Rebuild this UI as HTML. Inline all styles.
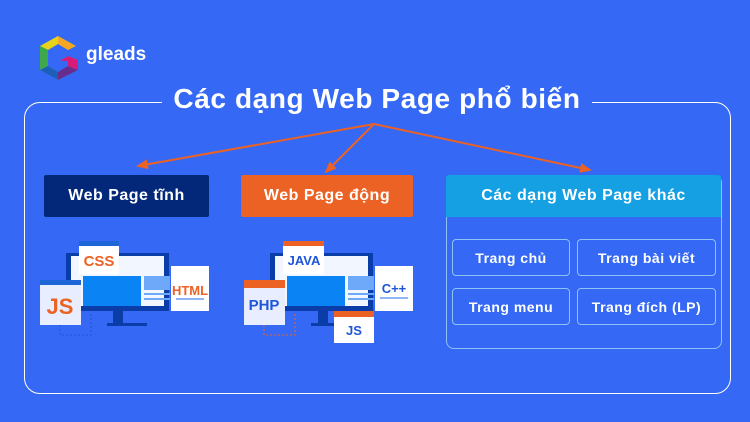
<!DOCTYPE html>
<html><head><meta charset="utf-8"><style>
body{margin:0;width:750px;height:422px;background:#3468f5;position:relative;overflow:hidden;font-family:"Liberation Sans","DejaVu Sans",sans-serif;}
.a{position:absolute;}
.btn{position:absolute;color:#fff;font-weight:bold;font-size:16px;display:flex;align-items:center;justify-content:center;letter-spacing:0.5px;border-radius:2px;}
.sub{position:absolute;border:1px solid #8fc3f5;border-radius:4px;color:#fff;font-weight:bold;font-size:14px;display:flex;align-items:center;justify-content:center;letter-spacing:0.5px;}
</style></head><body>
<div class="a" style="left:24px;top:102px;width:705px;height:290px;border:1.5px solid #fff;border-radius:16px;"></div>
<div class="a" style="left:162px;top:86px;width:430px;height:30px;background:#3468f5;"></div>
<div class="a" style="left:160px;top:83px;width:434px;text-align:center;color:#fff;font-weight:bold;font-size:28px;letter-spacing:0.6px;">Các dạng Web Page phổ biến</div>
<!-- logo -->
<svg class="a" style="left:38px;top:34px" width="45" height="48" viewBox="0 0 45 48">
<polygon points="20,2 38,12 30,16 20,10 10,16 10,32 20,38 30,32 30,27 22,27 30,22 40,26 40,36 20,46 2,36 2,12" fill="#2bb4a0"/>
<polygon points="20,2 38,12 30,16 20,10" fill="#f5a623"/>
<polygon points="20,2 20,10 10,16 2,12" fill="#e8d21a"/>
<polygon points="2,12 10,16 10,32 2,36" fill="#3fa84a"/>
<polygon points="30,22 40,26 40,36 30,32 30,27 22,27" fill="#d81b7a"/>
<polygon points="20,38 30,32 40,36 20,46" fill="#6a2b8f"/>
<polygon points="2,36 10,32 20,38 20,46" fill="#1c5fb8"/>
</svg>
<div class="a" style="left:86px;top:44px;color:#fff;font-weight:bold;font-size:19px;">gleads</div>
<!-- arrows -->
<svg class="a" style="left:0;top:0" width="750" height="422">
<defs><marker id="m" markerWidth="12" markerHeight="10" refX="10" refY="5" orient="auto" markerUnits="userSpaceOnUse"><polygon points="0,0 12,5 0,10" fill="#ec6224"/></marker></defs>
<g stroke="#ec6224" stroke-width="2" fill="none">
<line x1="374" y1="124" x2="138" y2="166" marker-end="url(#m)"/>
<line x1="374" y1="124" x2="326" y2="172" marker-end="url(#m)"/>
<line x1="374" y1="124" x2="590" y2="170" marker-end="url(#m)"/>
</g></svg>
<div class="btn" style="left:44px;top:175px;width:165px;height:42px;background:#03287a;">Web Page tĩnh</div>
<div class="btn" style="left:241px;top:175px;width:172px;height:42px;background:#ec6224;">Web Page động</div>
<div class="a" style="left:446px;top:175px;width:274px;height:172px;border:1px solid #8fc3f5;border-radius:8px;"></div>
<div class="btn" style="left:446px;top:175px;width:275px;height:42px;background:#14a0e2;border-radius:3px 3px 0 0;">Các dạng Web Page khác</div>
<div class="sub" style="left:452px;top:239px;width:116px;height:35px;">Trang chủ</div>
<div class="sub" style="left:577px;top:239px;width:137px;height:35px;">Trang bài viết</div>
<div class="sub" style="left:452px;top:288px;width:116px;height:35px;">Trang menu</div>
<div class="sub" style="left:577px;top:288px;width:137px;height:35px;">Trang đích (LP)</div>
<!-- monitors -->
<svg class="a" style="left:0;top:0" width="750" height="422">
<g>
<rect x="66" y="253" width="103" height="58" fill="#0a3da8"/>
<rect x="113" y="311" width="10" height="12" fill="#0a3da8"/><rect x="107" y="323" width="40" height="3" fill="#0a3da8"/>
<rect x="71" y="256" width="93" height="50" fill="#f2f6ff"/>
<rect x="83" y="276" width="58" height="30" fill="#0a84f5"/><rect x="144" y="276" width="26" height="14" fill="#6ea8f8"/>
<rect x="144" y="293" width="26" height="2" fill="#6ea8f8"/><rect x="144" y="298" width="26" height="2" fill="#6ea8f8"/>
<rect x="79" y="241" width="40" height="33" fill="#fff"/><rect x="79" y="241" width="40" height="5" fill="#1e66d8"/>
<text x="99" y="266" fill="#ec6224" font-size="15" font-weight="bold" text-anchor="middle">CSS</text>
<rect x="40" y="280" width="41" height="45" fill="#e8eeff"/><rect x="40" y="280" width="41" height="5" fill="#1e66d8"/>
<text x="60" y="314" fill="#ec6224" font-size="22" font-weight="bold" text-anchor="middle">JS</text>
<rect x="171" y="266" width="38" height="45" fill="#fff"/>
<text x="190" y="295" fill="#ec6224" font-size="13" font-weight="bold" text-anchor="middle">HTML</text>
<rect x="176" y="298" width="28" height="2" fill="#8fb6f5"/>
<path d="M60 325 V335 H91 V313" stroke="#1e56d8" stroke-dasharray="2 2" fill="none"/>
</g>
<g>
<rect x="270" y="253" width="103" height="58" fill="#0a3da8"/>
<rect x="318" y="311" width="10" height="12" fill="#0a3da8"/><rect x="311" y="323" width="40" height="3" fill="#0a3da8"/>
<rect x="275" y="256" width="93" height="50" fill="#f2f6ff"/>
<rect x="287" y="276" width="58" height="30" fill="#0a84f5"/><rect x="348" y="276" width="26" height="14" fill="#6ea8f8"/>
<rect x="348" y="293" width="26" height="2" fill="#6ea8f8"/><rect x="348" y="298" width="26" height="2" fill="#6ea8f8"/>
<rect x="283" y="241" width="41" height="33" fill="#fff"/><rect x="283" y="241" width="41" height="5" fill="#ec6224"/>
<text x="304" y="265" fill="#1e56d8" font-size="13" font-weight="bold" text-anchor="middle">JAVA</text>
<rect x="244" y="280" width="41" height="45" fill="#e8eeff"/><rect x="244" y="280" width="41" height="8" fill="#ec6224"/>
<text x="264" y="310" fill="#1e56d8" font-size="15" font-weight="bold" text-anchor="middle">PHP</text>
<rect x="375" y="266" width="38" height="45" fill="#fff"/>
<text x="394" y="293" fill="#1e56d8" font-size="13" font-weight="bold" text-anchor="middle">C++</text>
<rect x="380" y="297" width="28" height="2" fill="#8fb6f5"/>
<rect x="334" y="311" width="40" height="32" fill="#fff"/><rect x="334" y="311" width="40" height="6" fill="#ec6224"/>
<text x="354" y="335" fill="#1e56d8" font-size="13" font-weight="bold" text-anchor="middle">JS</text>
<path d="M264 325 V335 H295 V313" stroke="#ec6224" stroke-dasharray="2 2" fill="none"/>
</g>
</svg>
</body></html>
